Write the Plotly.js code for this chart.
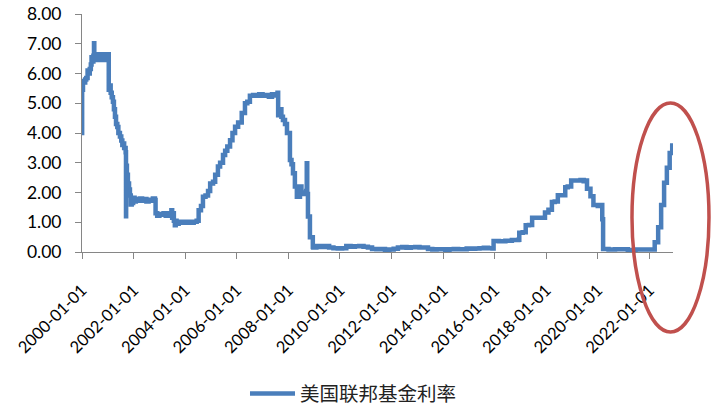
<!DOCTYPE html>
<html>
<head>
<meta charset="utf-8">
<script src="https://cdn.plot.ly/plotly-3.0.1.min.js"></script>
<style>html,body{margin:0;padding:0;background:#fff;}#chart{width:713px;height:413px;}</style>
</head>
<body>
<div id="chart"></div>
<script>
// Series name
const seriesName = '美国联邦基金利率';

// Dates and values
const dates = [
'2000-01-01','2000-01-03','2000-01-15','2000-02-01','2000-02-15','2000-03-01','2000-03-20','2000-04-05','2000-04-20','2000-05-05',
'2000-05-15','2000-05-25','2000-06-10','2000-06-19','2000-06-23','2000-07-05','2000-07-20','2000-08-05','2000-08-20','2000-09-05',
'2000-09-20','2000-10-05','2000-10-20','2000-11-05','2000-11-20','2000-12-05','2000-12-25','2001-01-08','2001-01-14','2001-01-25',
'2001-02-10','2001-02-25','2001-03-14','2001-03-28','2001-04-12','2001-04-27','2001-05-15','2001-05-30','2001-06-21','2001-07-10',
'2001-07-25','2001-08-03','2001-08-20','2001-09-10','2001-09-15','2001-09-17','2001-09-28','2001-10-12','2001-10-28','2001-11-10',
'2001-11-22','2001-12-05','2001-12-25','2002-01-15','2002-02-01','2002-03-01','2002-04-01','2002-05-01','2002-06-01','2002-07-01',
'2002-08-01','2002-09-01','2002-10-01','2002-10-30','2002-11-08','2002-12-01','2003-01-01','2003-02-01','2003-03-01','2003-04-01',
'2003-05-01','2003-06-01','2003-06-20','2003-07-01','2003-07-12','2003-07-25','2003-08-08','2003-08-20','2003-09-01','2003-10-01',
'2003-11-01','2003-12-01','2004-01-01','2004-02-01','2004-03-01','2004-04-01','2004-05-01','2004-06-12','2004-07-10','2004-08-12',
'2004-09-09','2004-10-15','2004-11-20','2004-12-20','2005-01-30','2005-03-01','2005-04-09','2005-05-10','2005-06-20','2005-07-20',
'2005-08-20','2005-09-28','2005-11-01','2005-12-08','2006-01-20','2006-03-12','2006-04-27','2006-05-30','2006-07-06','2006-08-20',
'2006-10-01','2006-11-15','2007-01-01','2007-02-15','2007-04-01','2007-05-15','2007-07-01','2007-08-01','2007-08-10','2007-09-10',
'2007-09-25','2007-10-17','2007-11-15','2007-12-13','2008-01-24','2008-02-15','2008-03-07','2008-04-03','2008-05-01','2008-06-14',
'2008-07-05','2008-07-28','2008-09-10','2008-09-18','2008-09-25','2008-10-05','2008-11-02','2008-12-13','2008-12-20','2009-02-01',
'2009-04-01','2009-06-01','2009-08-01','2009-10-01','2009-12-01','2010-02-01','2010-04-01','2010-06-01','2010-08-01','2010-10-01',
'2010-12-01','2011-02-01','2011-04-01','2011-06-01','2011-08-01','2011-10-01','2011-12-01','2012-02-01','2012-04-01','2012-06-01',
'2012-08-01','2012-10-01','2012-12-01','2013-02-01','2013-04-01','2013-06-01','2013-08-01','2013-10-01','2013-12-01','2014-02-01',
'2014-04-01','2014-06-01','2014-08-01','2014-10-01','2014-12-01','2015-02-01','2015-04-01','2015-06-01','2015-08-01','2015-10-01',
'2015-12-01','2015-12-17','2016-03-01','2016-06-01','2016-09-01','2016-12-01','2016-12-15','2017-02-01','2017-03-16','2017-05-01',
'2017-06-15','2017-09-01','2017-12-14','2018-02-01','2018-03-22','2018-05-01','2018-06-14','2018-08-01','2018-09-27','2018-11-01',
'2018-12-20','2019-03-01','2019-05-01','2019-06-15','2019-07-25','2019-08-01','2019-09-19','2019-10-31','2020-01-01','2020-03-01',
'2020-03-04','2020-03-16','2020-06-01','2020-09-01','2020-12-01','2021-03-01','2021-06-01','2021-06-17','2021-09-01','2021-12-01',
'2022-03-01','2022-03-17','2022-05-05','2022-06-16','2022-07-28','2022-09-05','2022-10-15','2022-11-20','2022-12-01'
];
const rates = [
4.00,5.45,5.75,5.70,5.80,5.85,6.10,6.00,6.15,6.30,
6.55,6.40,6.60,7.02,6.45,6.65,6.45,6.60,6.50,6.65,
6.45,6.60,6.50,6.65,6.45,6.60,6.50,6.65,5.45,5.60,
5.35,5.20,5.05,4.80,4.55,4.30,4.20,4.00,3.88,3.75,
3.60,3.65,3.50,3.35,1.20,2.90,2.60,2.30,2.10,1.90,
1.60,1.65,1.82,1.70,1.78,1.72,1.80,1.72,1.78,1.70,
1.76,1.72,1.80,1.75,1.30,1.22,1.28,1.25,1.30,1.22,
1.30,1.25,1.40,1.15,1.30,1.05,0.90,1.05,0.95,1.02,
0.98,1.02,0.98,1.00,1.02,0.98,1.02,1.05,1.40,1.55,
1.86,1.90,2.05,2.30,2.36,2.60,2.87,3.00,3.26,3.40,
3.55,3.76,4.00,4.21,4.35,4.67,5.00,5.05,5.25,5.28,
5.25,5.30,5.25,5.28,5.22,5.30,5.26,5.35,4.60,4.80,
4.55,4.44,4.30,4.00,3.09,2.95,2.65,2.20,1.86,2.20,
1.95,2.00,2.05,2.98,1.95,1.19,0.50,0.17,0.15,0.20,
0.17,0.20,0.15,0.13,0.12,0.13,0.20,0.18,0.19,0.20,
0.18,0.15,0.10,0.09,0.10,0.07,0.08,0.11,0.15,0.17,
0.14,0.16,0.17,0.15,0.15,0.10,0.08,0.09,0.09,0.07,
0.09,0.10,0.09,0.09,0.12,0.11,0.12,0.13,0.14,0.13,
0.12,0.37,0.36,0.38,0.40,0.41,0.65,0.66,0.90,0.91,
1.15,1.15,1.33,1.42,1.68,1.70,1.91,1.91,2.18,2.20,
2.40,2.40,2.42,2.38,2.40,2.13,1.87,1.58,1.55,1.58,
1.10,0.10,0.08,0.09,0.09,0.07,0.06,0.08,0.08,0.08,
0.08,0.33,0.83,1.58,2.33,2.83,3.33,3.58,3.60
];

// Axis ticks
const yTicks = [0,1,2,3,4,5,6,7,8];
const xTickYears = [2000,2002,2004,2006,2008,2010,2012,2014,2016,2018,2020,2022];
const xTickVals = xTickYears.map(y => y + '-01-01');
const xTickText = xTickYears.map(y => y + '-01-01');

const trace = {
  x: dates, y: rates, type: 'scatter', mode: 'lines', name: seriesName,
  line: {color: '#4A7EBB', width: 4.5, shape: 'hv'}
};

const layout = {
  width: 713, height: 413,
  margin: {l: 82, r: 40, t: 14, b: 161, autoexpand: false},
  paper_bgcolor: '#ffffff', plot_bgcolor: '#ffffff',
  showlegend: true,
  font: {family: 'Lato, "Open Sans", sans-serif', color: '#000000', size: 17},
  xaxis: {
    type: 'date', range: ['2000-01-01', '2022-12-01'], automargin: false,
    tickvals: xTickVals, ticktext: xTickText, tickangle: -45, ticklabelstandoff: 15,
    showgrid: false, zeroline: false, showline: true, linecolor: '#868686', linewidth: 1,
    ticks: 'outside', ticklen: 6, tickcolor: '#868686',
    tickfont: {family: 'Lato, sans-serif', size: 16.5, color: '#000'}
  },
  yaxis: {
    range: [0, 8], tickvals: yTicks, tickformat: '.2f', automargin: false, ticklabelstandoff: 10,
    showgrid: false, zeroline: false, showline: true, linecolor: '#868686', linewidth: 1,
    ticks: 'outside', ticklen: 6, tickcolor: '#868686',
    tickfont: {family: 'Lato, sans-serif', size: 17.5, color: '#000'}
  },
  legend: {
    orientation: 'h', x: 0.2758, xanchor: 'left', y: -0.596, yanchor: 'middle',
    itemwidth: 45,
    font: {family: '"Noto Sans CJK SC", sans-serif', size: 19.5, color: '#222'},
    bgcolor: 'rgba(0,0,0,0)'
  },
  shapes: [{
    type: 'circle', xref: 'paper', yref: 'paper',
    x0: 0.9306, x1: 1.0609, y0: -0.336, y1: 0.626,
    line: {color: '#C0504D', width: 3.5}
  }]
};

Plotly.newPlot('chart', [trace], layout, {displayModeBar: false, staticPlot: true});
</script>
</body>
</html>
